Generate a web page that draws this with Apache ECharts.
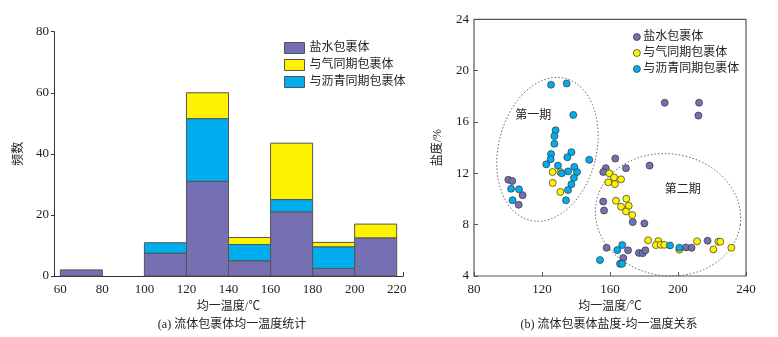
<!DOCTYPE html>
<html>
<head>
<meta charset="utf-8">
<script src="https://cdn.jsdelivr.net/npm/echarts@6/dist/echarts.min.js"></script>
<style>
  html, body { margin: 0; background: #fff; }
  #main { width: 778px; height: 337px; }
</style>
</head>
<body>
<div id="main"></div>
<script>
const seriesNames = ['盐水包裹体', '与气同期包裹体', '与沥青同期包裹体']
const colors = ['#7470b1', '#fff200', '#00aeef']
const fontFamily = "'Liberation Serif', 'Noto Sans CJK SC', serif"

// (a) 均一温度直方图
const binStart = [60, 80, 100, 120, 140, 160, 180, 200]
const binWidth = 20
const brineCount = [2, 0, 7.5, 31, 5, 21, 2.5, 12.5]
const gasCount = [0, 0, 0, 8.5, 2.3, 18.5, 1.5, 4.5]
const bitumenCount = [0, 0, 3.4, 20.5, 5.3, 4, 7, 0]
const histTicks = [60, 80, 100, 120, 140, 160, 180, 200, 220]

// (b) 盐度-均一温度 [Th, 盐度]
const brinePoints = [
  [100.2, 11.5], [102.5, 11.4], [108.6, 10.3], [106.3, 9.55],
  [163.1, 13.15], [157.5, 12.4], [156, 12.1], [169.4, 12.4], [183.3, 12.6],
  [192.2, 17.5], [212.4, 17.5], [212, 16.5],
  [156, 9.8], [156.5, 9.1], [173.4, 8.2], [180.2, 8.1],
  [158, 6.2], [170.6, 6.0], [167.8, 5.4], [177, 5.8], [179.2, 5.78], [180.8, 6.0],
  [204.7, 6.23], [208, 6.2], [217.4, 6.75]
]
const gasPoints = [
  [126.2, 12.1], [126.3, 11.25], [130.8, 10.55], [130.8, 12.1],
  [159.6, 12.0], [162.4, 11.68], [166.5, 11.53], [159, 11.3], [162.9, 11.16],
  [163.5, 9.86], [169.6, 10.02], [166.5, 9.4], [171, 9.47], [169.4, 9.03], [173.1, 8.75],
  [182.4, 6.78], [188.4, 6.72], [187, 6.41], [189.8, 6.43], [191.9, 6.43],
  [200.8, 6.05], [211.2, 6.7], [220.8, 6.07], [223.7, 6.67], [224.9, 6.67], [231.4, 6.2]
]
const bitumenPoints = [
  [125.3, 18.9], [134.5, 19.0], [138.4, 16.55], [128, 15.35], [127.3, 14.9],
  [127.3, 14.3], [125.3, 13.5], [137.3, 13.65], [134.9, 13.25], [125.1, 13.1],
  [122.5, 12.7], [129.4, 12.6], [147.8, 13.05], [139, 12.5], [135.3, 12.15],
  [140.6, 12.1], [131.6, 12.0], [138.8, 11.65], [137.3, 11.15], [135.3, 10.7],
  [134.1, 9.9], [101.8, 10.8], [106.5, 10.75], [102.7, 9.9],
  [154.1, 5.24], [164.3, 6.02], [167.2, 6.41], [165.9, 4.95], [167.1, 4.95],
  [195.3, 6.38], [200.8, 6.2]
]
// 分期圈: 中心, x/y 半轴(数据单位), 旋转角, 标注位置
const stageNames = ['第一期', '第二期']
const stageCenters = [[123.2, 13.87], [194.1, 8.77]]
const stageRadii = [[28.8, 5.7], [42.9, 4.75]]
const stageAngles = [14, 8]
const stageLabelPos = [[114.9, 16.5], [202.8, 10.7]]

function stacked(counts, bases) {
  return binStart
    .map((x, i) => [x, x + binWidth, bases[i], bases[i] + counts[i]])
    .filter(d => d[3] > d[2])
}
const zeros = binStart.map(() => 0)
const base2 = brineCount.map((v, i) => v + bitumenCount[i])

function renderBar(params, api) {
  const p0 = api.coord([api.value(0), api.value(3)])
  const p1 = api.coord([api.value(1), api.value(2)])
  return {
    type: 'rect',
    shape: { x: p0[0], y: p0[1], width: p1[0] - p0[0], height: p1[1] - p0[1] },
    style: { fill: api.visual('color'), stroke: '#555', lineWidth: 1 }
  }
}

function renderEllipse(params, api) {
  const c = api.coord([api.value(0), api.value(1)])
  const s = api.size([api.value(2), api.value(3)])
  const t = api.value(4) * Math.PI / 180
  const pts = []
  for (let i = 0; i <= 120; i++) {
    const a = i / 120 * 2 * Math.PI
    const x = s[0] * Math.cos(a)
    const y = s[1] * Math.sin(a)
    pts.push([c[0] + x * Math.cos(t) - y * Math.sin(t), c[1] + x * Math.sin(t) + y * Math.cos(t)])
  }
  const lp = api.coord([api.value(5), api.value(6)])
  return {
    type: 'group',
    children: [
      { type: 'polyline', shape: { points: pts }, style: { fill: 'none', stroke: '#666', lineWidth: 1, lineDash: [1.5, 2] } },
      { type: 'text', x: lp[0], y: lp[1], style: { text: stageNames[params.dataIndex], font: '12px ' + fontFamily, fill: '#222', align: 'center', verticalAlign: 'middle' } }
    ]
  }
}

const chart = echarts.init(document.getElementById('main'))

chart.setOption({
  animation: false,
  textStyle: { fontFamily: fontFamily, color: '#222' },
  color: colors,
  grid: [
    { left: 54, top: 31.7, width: 349, height: 244.3 },
    { left: 474, top: 19.3, width: 272, height: 256.7, show: true, borderColor: '#555', borderWidth: 1.2, backgroundColor: 'transparent' }
  ],
  legend: [
    {
      data: seriesNames, orient: 'vertical', left: 279, top: 37, icon: 'rect',
      itemWidth: 20, itemHeight: 11, itemGap: 5,
      itemStyle: { borderColor: '#555', borderWidth: 1 },
      textStyle: { fontSize: 12, fontFamily: fontFamily, color: '#222' }
    },
    {
      data: seriesNames, orient: 'vertical', left: 628, top: 26, icon: 'circle',
      itemWidth: 7, itemHeight: 7, itemGap: 4,
      itemStyle: { borderColor: '#333', borderWidth: 0.7 },
      textStyle: { fontSize: 12, fontFamily: fontFamily, color: '#222', padding: [0, 0, 0, -2] }
    }
  ],
  xAxis: [
    {
      gridIndex: 0, type: 'value', min: 57, max: 223,
      name: '均一温度/℃', nameLocation: 'middle', nameGap: 22,
      nameTextStyle: { fontSize: 12, fontFamily: fontFamily, color: '#222' },
      axisLine: { lineStyle: { color: '#333' } },
      axisTick: { show: true, inside: true, length: 4, customValues: [223], lineStyle: { color: '#333' } },
      axisLabel: { customValues: histTicks, fontSize: 13, margin: 7, color: '#222' },
      splitLine: { show: false }
    },
    {
      gridIndex: 1, type: 'value', min: 80, max: 240, interval: 40,
      name: '均一温度/℃', nameLocation: 'middle', nameGap: 22,
      nameTextStyle: { fontSize: 12, fontFamily: fontFamily, color: '#222' },
      axisLine: { show: false },
      axisTick: { inside: true, length: 4, lineStyle: { color: '#555' } },
      axisLabel: { fontSize: 13, margin: 7, color: '#222' },
      splitLine: { show: false }
    }
  ],
  yAxis: [
    {
      gridIndex: 0, type: 'value', min: 0, max: 80, interval: 20,
      name: '频数', nameLocation: 'middle', nameGap: 29,
      nameTextStyle: { fontSize: 12, fontFamily: fontFamily, color: '#222' },
      axisLine: { show: true, lineStyle: { color: '#333' } },
      axisTick: { show: true, length: 3, lineStyle: { color: '#333' } },
      axisLabel: { fontSize: 13, margin: 5, color: '#222' },
      splitLine: { show: false }
    },
    {
      gridIndex: 1, type: 'value', min: 4, max: 24, interval: 4,
      name: '盐度/%', nameLocation: 'middle', nameGap: 30,
      nameTextStyle: { fontSize: 12, fontFamily: fontFamily, color: '#222' },
      axisLine: { show: false },
      axisTick: { show: true, inside: true, length: 4, lineStyle: { color: '#555' } },
      axisLabel: { fontSize: 13, margin: 5, color: '#222' },
      splitLine: { show: false }
    }
  ],
  graphic: [
    { type: 'text', x: 232, y: 325, style: { text: '(a) 流体包裹体均一温度统计', font: '12px ' + fontFamily, fill: '#222', align: 'center', verticalAlign: 'middle' } },
    { type: 'text', x: 609, y: 325, style: { text: '(b) 流体包裹体盐度-均一温度关系', font: '12px ' + fontFamily, fill: '#222', align: 'center', verticalAlign: 'middle' } }
  ],
  series: [
    { name: seriesNames[0], type: 'custom', xAxisIndex: 0, yAxisIndex: 0, renderItem: renderBar, encode: { x: [0, 1], y: [2, 3] }, itemStyle: { color: colors[0] }, data: stacked(brineCount, zeros) },
    { name: seriesNames[1], type: 'custom', xAxisIndex: 0, yAxisIndex: 0, renderItem: renderBar, encode: { x: [0, 1], y: [2, 3] }, itemStyle: { color: colors[1] }, data: stacked(gasCount, base2) },
    { name: seriesNames[2], type: 'custom', xAxisIndex: 0, yAxisIndex: 0, renderItem: renderBar, encode: { x: [0, 1], y: [2, 3] }, itemStyle: { color: colors[2] }, data: stacked(bitumenCount, brineCount) },
    {
      type: 'custom', xAxisIndex: 1, yAxisIndex: 1, renderItem: renderEllipse, clip: false, silent: true,
      encode: { x: 0, y: 1 },
      data: stageNames.map((n, i) => [stageCenters[i][0], stageCenters[i][1], stageRadii[i][0], stageRadii[i][1], stageAngles[i], stageLabelPos[i][0], stageLabelPos[i][1]])
    },
    { name: seriesNames[0], type: 'scatter', xAxisIndex: 1, yAxisIndex: 1, symbolSize: 7, itemStyle: { color: colors[0], borderColor: '#333', borderWidth: 0.7, opacity: 1 }, data: brinePoints },
    { name: seriesNames[1], type: 'scatter', xAxisIndex: 1, yAxisIndex: 1, symbolSize: 7, itemStyle: { color: colors[1], borderColor: '#333', borderWidth: 0.7, opacity: 1 }, data: gasPoints },
    { name: seriesNames[2], type: 'scatter', xAxisIndex: 1, yAxisIndex: 1, symbolSize: 7, itemStyle: { color: colors[2], borderColor: '#333', borderWidth: 0.7, opacity: 1 }, data: bitumenPoints }
  ]
})
</script>
</body>
</html>
